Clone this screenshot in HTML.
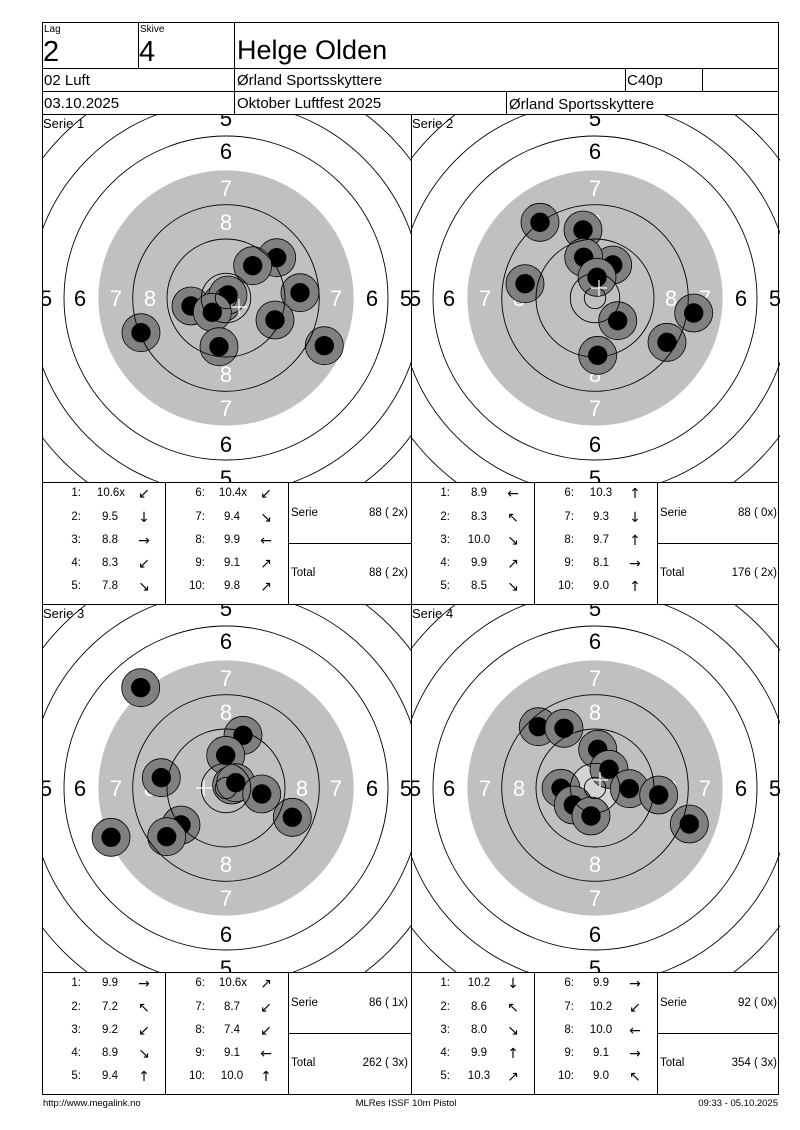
<!DOCTYPE html>
<html><head><meta charset="utf-8"><style>
html,body{margin:0;padding:0;background:#fff}
svg{display:block;font-family:"Liberation Sans",Arial,sans-serif}
</style></head><body>
<svg width="800" height="1130" viewBox="0 0 800 1130" xmlns="http://www.w3.org/2000/svg">
<defs>
<clipPath id="pc"><rect x="-184" y="-184" width="369" height="368"/></clipPath>
<g id="rings" fill="none" stroke="#000" stroke-width="0.9">
<circle r="10.7"/><circle r="24.7"/><circle r="59"/><circle r="93.3"/><circle r="162"/><circle r="196"/><circle r="230.6"/><circle r="265"/>
</g>
<g id="shot"><circle r="19" fill="#808080" stroke="#000" stroke-width="0.8"/><circle r="9.7" fill="#000"/></g>
</defs>
<rect width="800" height="1130" fill="#fff"/>

<g transform="translate(226,298)" clip-path="url(#pc)">
<circle r="127.6" fill="#c0c0c0"/>
<g font-size="22" text-anchor="middle">
<text x="0" y="-172">5</text><text x="0" y="188">5</text><text x="-180" y="8">5</text><text x="180" y="8">5</text>
<text x="0" y="-139">6</text><text x="0" y="154">6</text><text x="-146" y="8">6</text><text x="146" y="8">6</text>
<g fill="#fff"><text x="0" y="-102">7</text><text x="0" y="118">7</text><text x="-110" y="8">7</text><text x="110" y="8">7</text>
<text x="0" y="-68">8</text><text x="0" y="84">8</text><text x="-76" y="8">8</text><text x="76" y="8">8</text></g>
</g>
<use href="#shot" x="-4" y="5"/><use href="#shot" x="2" y="-3"/>
<use href="#shot" x="50.7" y="-40.3"/><use href="#shot" x="26.7" y="-32.3"/><use href="#shot" x="74" y="-5.3"/><use href="#shot" x="-35" y="8"/><use href="#shot" x="-13.7" y="14.3"/><use href="#shot" x="49" y="22"/><use href="#shot" x="-85" y="34.7"/><use href="#shot" x="-7" y="48.7"/><use href="#shot" x="98.3" y="47.7"/>
<use href="#rings"/>
<path d="M5 9h16M13 1v16" stroke="#fff" stroke-width="1.2"/>
</g>

<g transform="translate(595,298)" clip-path="url(#pc)">
<circle r="127.6" fill="#c0c0c0"/>
<g font-size="22" text-anchor="middle">
<text x="0" y="-172">5</text><text x="0" y="188">5</text><text x="-180" y="8">5</text><text x="180" y="8">5</text>
<text x="0" y="-139">6</text><text x="0" y="154">6</text><text x="-146" y="8">6</text><text x="146" y="8">6</text>
<g fill="#fff"><text x="0" y="-102">7</text><text x="0" y="118">7</text><text x="-110" y="8">7</text><text x="110" y="8">7</text>
<text x="0" y="-68">8</text><text x="0" y="84">8</text><text x="-76" y="8">8</text><text x="76" y="8">8</text></g>
</g>
<use href="#shot" x="-55" y="-75.7"/><use href="#shot" x="-12" y="-68"/><use href="#shot" x="17.7" y="-33"/><use href="#shot" x="-11.3" y="-40.7"/><use href="#shot" x="2" y="-20.7"/><use href="#shot" x="-70" y="-14.3"/><use href="#shot" x="22.7" y="22.7"/><use href="#shot" x="98.7" y="15"/><use href="#shot" x="72" y="44.3"/><use href="#shot" x="2.7" y="57.3"/>
<use href="#rings"/>
<path d="M-4 -10h16M4 -18v16" stroke="#fff" stroke-width="1.2"/>
</g>

<g transform="translate(226,788)" clip-path="url(#pc)">
<circle r="127.6" fill="#c0c0c0"/>
<g font-size="22" text-anchor="middle">
<text x="0" y="-172">5</text><text x="0" y="188">5</text><text x="-180" y="8">5</text><text x="180" y="8">5</text>
<text x="0" y="-139">6</text><text x="0" y="154">6</text><text x="-146" y="8">6</text><text x="146" y="8">6</text>
<g fill="#fff"><text x="0" y="-102">7</text><text x="0" y="118">7</text><text x="-110" y="8">7</text><text x="110" y="8">7</text>
<text x="0" y="-68">8</text><text x="0" y="84">8</text><text x="-76" y="8">8</text><text x="76" y="8">8</text></g>
</g>
<use href="#shot" x="-85.3" y="-100.3"/><use href="#shot" x="17" y="-52.7"/><use href="#shot" x="-0.3" y="-32.7"/><use href="#shot" x="-64.7" y="-10.3"/><use href="#shot" x="5.7" y="-3"/><use href="#shot" x="9.7" y="-5.3"/><use href="#shot" x="35.7" y="6"/><use href="#shot" x="66.3" y="29.3"/><use href="#shot" x="-45" y="37"/><use href="#shot" x="-59.3" y="48.7"/><use href="#shot" x="-115" y="49.3"/>
<use href="#rings"/>
<path d="M-30 0h16M-22 -8v16" stroke="#fff" stroke-width="1.2"/>
</g>

<g transform="translate(595,788)" clip-path="url(#pc)">
<circle r="127.6" fill="#c0c0c0"/>
<circle r="24.7" fill="#d4d4d4"/>
<g font-size="22" text-anchor="middle">
<text x="0" y="-172">5</text><text x="0" y="188">5</text><text x="-180" y="8">5</text><text x="180" y="8">5</text>
<text x="0" y="-139">6</text><text x="0" y="154">6</text><text x="-146" y="8">6</text><text x="146" y="8">6</text>
<g fill="#fff"><text x="0" y="-102">7</text><text x="0" y="118">7</text><text x="-110" y="8">7</text><text x="110" y="8">7</text>
<text x="0" y="-68">8</text><text x="0" y="84">8</text><text x="-76" y="8">8</text><text x="76" y="8">8</text></g>
</g>
<use href="#shot" x="-56.7" y="-61.3"/><use href="#shot" x="-31" y="-59.7"/><use href="#shot" x="2.7" y="-38.7"/><use href="#shot" x="14" y="-18.7"/><use href="#shot" x="-34" y="0.3"/><use href="#shot" x="34.3" y="0.7"/><use href="#shot" x="63.7" y="7"/><use href="#shot" x="-21.7" y="17"/><use href="#shot" x="-4" y="28"/><use href="#shot" x="94.3" y="36"/>
<use href="#rings"/>
<path d="M-3 -8h16M5 -16v16" stroke="#fff" stroke-width="1.2"/>
</g>

<g stroke="#000" stroke-width="1" fill="none" shape-rendering="crispEdges">
<rect x="42.5" y="22.5" width="736" height="1072"/>
<line x1="42" y1="68.5" x2="779" y2="68.5"/>
<line x1="42" y1="91.5" x2="779" y2="91.5"/>
<line x1="42" y1="114.5" x2="779" y2="114.5"/>
<line x1="138.5" y1="22" x2="138.5" y2="68"/>
<line x1="234.5" y1="22" x2="234.5" y2="114"/>
<line x1="625.5" y1="68" x2="625.5" y2="91"/>
<line x1="702.5" y1="68" x2="702.5" y2="91"/>
<line x1="506.5" y1="91" x2="506.5" y2="114"/>
<line x1="411.5" y1="114" x2="411.5" y2="1094"/>
<line x1="42" y1="482.5" x2="779" y2="482.5"/>
<line x1="42" y1="604.5" x2="779" y2="604.5"/>
<line x1="42" y1="972.5" x2="779" y2="972.5"/>
<line x1="165.5" y1="482" x2="165.5" y2="604"/><line x1="288.5" y1="482" x2="288.5" y2="604"/>
<line x1="534.5" y1="482" x2="534.5" y2="604"/><line x1="657.5" y1="482" x2="657.5" y2="604"/>
<line x1="165.5" y1="972" x2="165.5" y2="1094"/><line x1="288.5" y1="972" x2="288.5" y2="1094"/>
<line x1="534.5" y1="972" x2="534.5" y2="1094"/><line x1="657.5" y1="972" x2="657.5" y2="1094"/>
<line x1="288" y1="543.5" x2="411" y2="543.5"/><line x1="657" y1="543.5" x2="779" y2="543.5"/>
<line x1="288" y1="1033.5" x2="411" y2="1033.5"/><line x1="657" y1="1033.5" x2="779" y2="1033.5"/>
</g>

<g fill="#000">
<text x="44" y="32" font-size="10">Lag</text>
<text x="140" y="32" font-size="10">Skive</text>
<text x="43" y="61" font-size="29">2</text>
<text x="139" y="61" font-size="29">4</text>
<text x="237" y="59" font-size="27">Helge Olden</text>
<text x="44" y="85" font-size="15">02 Luft</text>
<text x="237" y="85" font-size="15">Ørland Sportsskyttere</text>
<text x="627" y="85" font-size="15">C40p</text>
<text x="44" y="108" font-size="15">03.10.2025</text>
<text x="237" y="108" font-size="15">Oktober Luftfest 2025</text>
<text x="509" y="109" font-size="15">Ørland Sportsskyttere</text>
<text x="43" y="128" font-size="13">Serie 1</text>
<text x="412" y="128" font-size="13">Serie 2</text>
<text x="43" y="618" font-size="13">Serie 3</text>
<text x="412" y="618" font-size="13">Serie 4</text>
</g>

<g font-size="11.5" fill="#000">
<g text-anchor="end"><text x="81" y="496">1:</text><text x="81" y="520">2:</text><text x="81" y="543">3:</text><text x="81" y="566">4:</text><text x="81" y="589">5:</text>
<text x="205" y="496">6:</text><text x="205" y="520">7:</text><text x="205" y="543">8:</text><text x="205" y="566">9:</text><text x="205" y="589">10:</text>
<text x="408" y="516">88 ( 2x)</text><text x="408" y="576">88 ( 2x)</text></g>
<g text-anchor="middle"><text x="111" y="496">10.6x</text><text x="110" y="520">9.5</text><text x="110" y="543">8.8</text><text x="110" y="566">8.3</text><text x="110" y="589">7.8</text>
<text x="233" y="496">10.4x</text><text x="232" y="520">9.4</text><text x="232" y="543">9.9</text><text x="232" y="566">9.1</text><text x="232" y="589">9.8</text></g>
<g text-anchor="middle" font-size="14" font-family="DejaVu Sans,sans-serif"><text x="144" y="498">↙</text><text x="144" y="522">↓</text><text x="144" y="545">→</text><text x="144" y="568">↙</text><text x="144" y="591">↘</text>
<text x="266" y="498">↙</text><text x="266" y="522">↘</text><text x="266" y="545">←</text><text x="266" y="568">↗</text><text x="266" y="591">↗</text></g>
<text x="291" y="516">Serie</text><text x="291" y="576">Total</text>

<g text-anchor="end"><text x="450" y="496">1:</text><text x="450" y="520">2:</text><text x="450" y="543">3:</text><text x="450" y="566">4:</text><text x="450" y="589">5:</text>
<text x="574" y="496">6:</text><text x="574" y="520">7:</text><text x="574" y="543">8:</text><text x="574" y="566">9:</text><text x="574" y="589">10:</text>
<text x="777" y="516">88 ( 0x)</text><text x="777" y="576">176 ( 2x)</text></g>
<g text-anchor="middle"><text x="479" y="496">8.9</text><text x="479" y="520">8.3</text><text x="479" y="543">10.0</text><text x="479" y="566">9.9</text><text x="479" y="589">8.5</text>
<text x="601" y="496">10.3</text><text x="601" y="520">9.3</text><text x="601" y="543">9.7</text><text x="601" y="566">8.1</text><text x="601" y="589">9.0</text></g>
<g text-anchor="middle" font-size="14" font-family="DejaVu Sans,sans-serif"><text x="513" y="498">←</text><text x="513" y="522">↖</text><text x="513" y="545">↘</text><text x="513" y="568">↗</text><text x="513" y="591">↘</text>
<text x="635" y="498">↑</text><text x="635" y="522">↓</text><text x="635" y="545">↑</text><text x="635" y="568">→</text><text x="635" y="591">↑</text></g>
<text x="660" y="516">Serie</text><text x="660" y="576">Total</text>

<g text-anchor="end"><text x="81" y="986">1:</text><text x="81" y="1010">2:</text><text x="81" y="1033">3:</text><text x="81" y="1056">4:</text><text x="81" y="1079">5:</text>
<text x="205" y="986">6:</text><text x="205" y="1010">7:</text><text x="205" y="1033">8:</text><text x="205" y="1056">9:</text><text x="205" y="1079">10:</text>
<text x="408" y="1006">86 ( 1x)</text><text x="408" y="1066">262 ( 3x)</text></g>
<g text-anchor="middle"><text x="110" y="986">9.9</text><text x="110" y="1010">7.2</text><text x="110" y="1033">9.2</text><text x="110" y="1056">8.9</text><text x="110" y="1079">9.4</text>
<text x="233" y="986">10.6x</text><text x="232" y="1010">8.7</text><text x="232" y="1033">7.4</text><text x="232" y="1056">9.1</text><text x="232" y="1079">10.0</text></g>
<g text-anchor="middle" font-size="14" font-family="DejaVu Sans,sans-serif"><text x="144" y="988">→</text><text x="144" y="1012">↖</text><text x="144" y="1035">↙</text><text x="144" y="1058">↘</text><text x="144" y="1081">↑</text>
<text x="266" y="988">↗</text><text x="266" y="1012">↙</text><text x="266" y="1035">↙</text><text x="266" y="1058">←</text><text x="266" y="1081">↑</text></g>
<text x="291" y="1006">Serie</text><text x="291" y="1066">Total</text>

<g text-anchor="end"><text x="450" y="986">1:</text><text x="450" y="1010">2:</text><text x="450" y="1033">3:</text><text x="450" y="1056">4:</text><text x="450" y="1079">5:</text>
<text x="574" y="986">6:</text><text x="574" y="1010">7:</text><text x="574" y="1033">8:</text><text x="574" y="1056">9:</text><text x="574" y="1079">10:</text>
<text x="777" y="1006">92 ( 0x)</text><text x="777" y="1066">354 ( 3x)</text></g>
<g text-anchor="middle"><text x="479" y="986">10.2</text><text x="479" y="1010">8.6</text><text x="479" y="1033">8.0</text><text x="479" y="1056">9.9</text><text x="479" y="1079">10.3</text>
<text x="601" y="986">9.9</text><text x="601" y="1010">10.2</text><text x="601" y="1033">10.0</text><text x="601" y="1056">9.1</text><text x="601" y="1079">9.0</text></g>
<g text-anchor="middle" font-size="14" font-family="DejaVu Sans,sans-serif"><text x="513" y="988">↓</text><text x="513" y="1012">↖</text><text x="513" y="1035">↘</text><text x="513" y="1058">↑</text><text x="513" y="1081">↗</text>
<text x="635" y="988">→</text><text x="635" y="1012">↙</text><text x="635" y="1035">←</text><text x="635" y="1058">→</text><text x="635" y="1081">↖</text></g>
<text x="660" y="1006">Serie</text><text x="660" y="1066">Total</text>
</g>

<g font-size="9.5" fill="#000">
<text x="43" y="1106">http://www.megalink.no</text>
<text x="406" y="1106" text-anchor="middle">MLRes ISSF 10m Pistol</text>
<text x="778" y="1106" text-anchor="end">09:33 - 05.10.2025</text>
</g>
</svg>
</body></html>
